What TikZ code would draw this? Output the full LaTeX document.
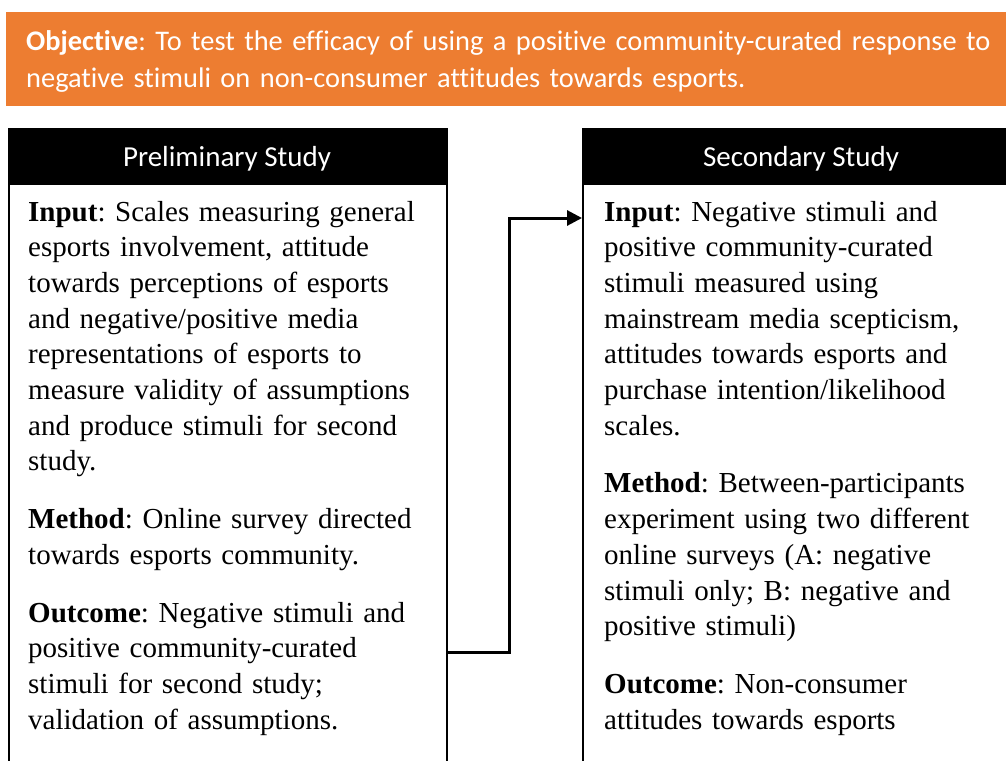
\documentclass[tikz,border=0pt]{standalone}
\usepackage{fontspec}
\setmainfont[Ligatures={NoCommon}]{Liberation Serif}
\newfontfamily\calibri[Ligatures={NoCommon}]{Carlito}
\usetikzlibrary{arrows.meta}
\definecolor{bannerorange}{HTML}{ED7D31}
\tikzset{
  banner/.style={fill=bannerorange, draw=none},
  headbox/.style={fill=black, draw=black, line width=1.5pt},
  bodybox/.style={fill=white, draw=black, line width=2pt},
  headtext/.style={text=white, font=\calibri\fontsize{29}{33}\selectfont, inner sep=0pt},
  bodytext/.style={anchor=base west, inner sep=0pt, text width=420pt, align=left,
    font=\fontsize{29}{35.7}\selectfont},
  flowarrow/.style={line width=3pt, -{Triangle[length=15pt,width=15pt]}},
}
\newcommand{\pskip}{\par\vspace{22pt}}
\frenchspacing
\begin{document}
\frenchspacing
\begin{tikzpicture}[x=1pt,y=-1pt]
\useasboundingbox (0,0) rectangle (1006,760);
% banner
\path[banner] (6,12) rectangle (1010,106);
\node[anchor=base west, inner sep=0pt, text width=990pt, align=left, text=white,
  font=\calibri\fontsize{28.4}{37}\selectfont] (objective) at (26,51)
  {\textbf{Objective}: To test the efficacy of using a positive community-curated response to\\
   negative stimuli on non-consumer attitudes towards esports.};
% left study
\node[headbox, minimum width=438pt, minimum height=55pt, anchor=north west, inner sep=0pt] (lh) at (8,128) {};
\node[headtext] (lht) at (227,159) {Preliminary Study};
\node[bodybox, minimum width=438pt, minimum height=590pt, anchor=north west, inner sep=0pt] (lb) at (8,183) {};
\node[bodytext] (lbt) at (28,221) {%
\textbf{Input}: Scales measuring general\\
esports involvement, attitude\\
towards perceptions of esports\\
and negative/positive media\\
representations of esports to\\
measure validity of assumptions\\
and produce stimuli for second\\
study.\pskip
\textbf{Method}: Online survey directed\\
towards esports community.\pskip
\textbf{Outcome}: Negative stimuli and\\
positive community-curated\\
stimuli for second study;\\
validation of assumptions.};
% right study
\node[headbox, minimum width=440pt, minimum height=55pt, anchor=north west, inner sep=0pt] (rh) at (582,128) {};
\node[headtext] (rht) at (801,159) {Secondary Study};
\node[bodybox, minimum width=440pt, minimum height=590pt, anchor=north west, inner sep=0pt] (rb) at (582,183) {};
\node[bodytext] (rbt) at (604,221) {%
\textbf{Input}: Negative stimuli and\\
positive community-curated\\
stimuli measured using\\
mainstream media scepticism,\\
attitudes towards esports and\\
purchase intention/likelihood\\
scales.\pskip
\textbf{Method}: Between-participants\\
experiment using two different\\
online surveys (A: negative\\
stimuli only; B: negative and\\
positive stimuli)\pskip
\textbf{Outcome}: Non-consumer\\
attitudes towards esports};
% connector
\coordinate (bend) at (509,652);
\draw[flowarrow] (lb.east |- bend) -- (bend) |- (rb.west |- 0,218);
\end{tikzpicture}
\end{document}
